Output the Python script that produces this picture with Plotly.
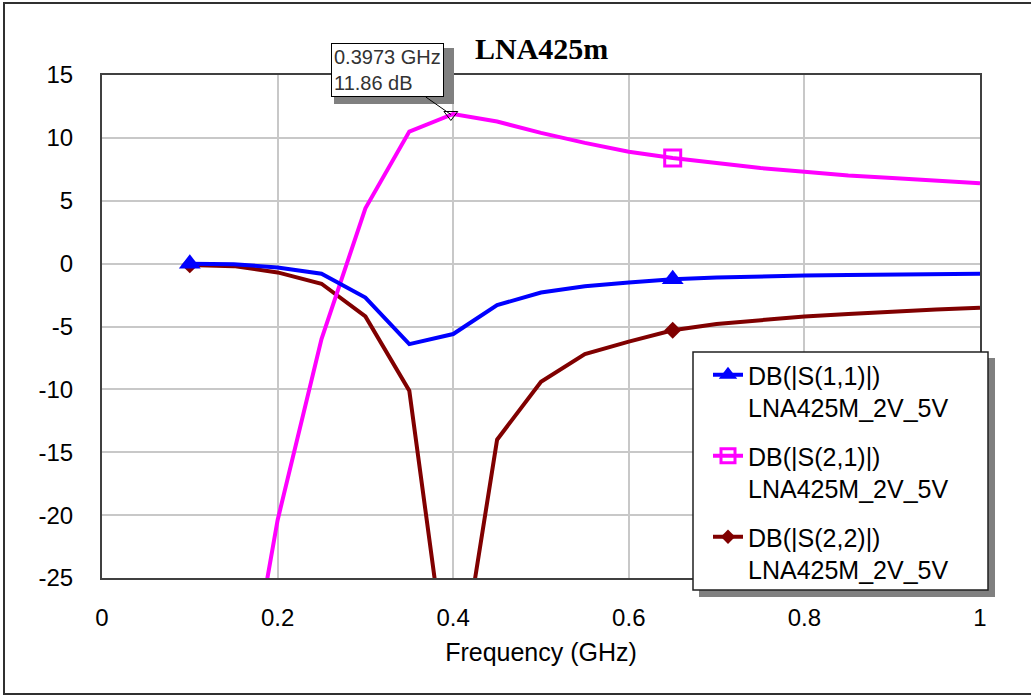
import plotly.graph_objects as go

# ---------------- data ----------------
freq = [0.10, 0.15, 0.20, 0.25, 0.30, 0.35, 0.40, 0.45, 0.50, 0.55,
        0.60, 0.65, 0.70, 0.75, 0.80, 0.85, 0.90, 0.95, 1.00]
s11 = [0.0, -0.05, -0.3, -0.8, -2.7, -6.4, -5.6, -3.3, -2.3, -1.8,
       -1.5, -1.25, -1.1, -1.0, -0.95, -0.9, -0.85, -0.82, -0.8]
s21 = [-60.0, -40.0, -20.4, -6.0, 4.4, 10.5, 11.9, 11.3, 10.4, 9.6,
       8.9, 8.4, 8.0, 7.6, 7.3, 7.0, 6.8, 6.6, 6.4]
s22 = [-0.1, -0.2, -0.7, -1.6, -4.2, -10.1, -36.0, -14.0, -9.4, -7.2,
       -6.2, -5.3, -4.8, -4.5, -4.2, -4.0, -3.8, -3.65, -3.5]
marker_freqs = [0.10, 0.65]

series_names = ["DB(|S(1,1)|)<br>LNA425M_2V_5V",
                "DB(|S(2,1)|)<br>LNA425M_2V_5V",
                "DB(|S(2,2)|)<br>LNA425M_2V_5V"]

x_ticks = [0, 0.2, 0.4, 0.6, 0.8, 1]
x_ticklabels = ["0", "0.2", "0.4", "0.6", "0.8", "1"]
y_ticks = [15, 10, 5, 0, -5, -10, -15, -20, -25]
y_ticklabels = ["15", "10", "5", "0", "-5", "-10", "-15", "-20", "-25"]

readout_freq = 0.3973
readout_db = 11.86
title_text = "LNA425m"
x_title = "Frequency (GHz)"

# ---------------- layout helpers ----------------
L, R, T, B = 102, 980, 75, 578
def px(x):
    return (x - L) / (R - L)
def py(y):
    return (B - y) / (B - T)

font_family = "Liberation Sans, Arial, sans-serif"

styles = {
    "s11": dict(color="#0000ff", symbol="triangle-up", size=19, lw=0),
    "s21": dict(color="#ff00ff", symbol="square-open", size=16, lw=3),
    "s22": dict(color="#800000", symbol="diamond", size=13, lw=0),
}
data = {"s11": s11, "s21": s21, "s22": s22}
keys = ["s11", "s21", "s22"]

fig = go.Figure()

# data traces, drawn S22 first so S11 ends on top
for k in reversed(keys):
    st = styles[k]
    ys = data[k]
    fig.add_trace(go.Scatter(
        x=freq, y=ys, mode="lines", showlegend=False,
        line=dict(color=st["color"], width=4), hoverinfo="skip",
    ))
    mx = [f for f in freq if any(abs(f - m) < 1e-9 for m in marker_freqs)]
    my = [y for f, y in zip(freq, ys) if any(abs(f - m) < 1e-9 for m in marker_freqs)]
    fig.add_trace(go.Scatter(
        x=mx, y=my, mode="markers", showlegend=False,
        marker=dict(symbol=st["symbol"], size=st["size"], color=st["color"],
                    line=dict(width=st["lw"], color=st["color"])),
    ))

# legend entries
for k, name in zip(keys, series_names):
    st = styles[k]
    fig.add_trace(go.Scatter(
        x=[None], y=[None], mode="lines+markers", name=name,
        line=dict(color=st["color"], width=4),
        marker=dict(symbol=st["symbol"], size=st["size"] - 2, color=st["color"],
                    line=dict(width=st["lw"], color=st["color"])),
        legendgroup=k,
    ))

# readout marker (open triangle)
fig.add_trace(go.Scatter(
    x=[readout_freq], y=[readout_db], mode="markers", showlegend=False,
    marker=dict(symbol="triangle-down-open", size=12, color="black",
                line=dict(width=1, color="black")),
))

fig.update_layout(
    width=1031, height=696,
    margin=dict(l=L, r=1031 - R, t=T, b=696 - B),
    paper_bgcolor="white", plot_bgcolor="white",
    font=dict(family=font_family, size=24, color="black"),
    showlegend=True,
    legend=dict(
        x=px(708), y=py(352), xanchor="left", yanchor="top",
        bgcolor="rgba(0,0,0,0)", borderwidth=0,
        font=dict(size=25, family=font_family, color="black"),
        valign="top", tracegroupgap=13,
    ),
    xaxis=dict(
        range=[0, 1], tickvals=x_ticks, ticktext=x_ticklabels,
        showgrid=True, gridcolor="#c8c8c8", gridwidth=1.5,
        zeroline=False, showline=True, linecolor="#404040", linewidth=2,
        mirror=True, ticks="", ticklabelstandoff=17,
        title=dict(text=x_title, standoff=14, font=dict(size=25)),
    ),
    yaxis=dict(
        range=[-25, 15], tickvals=y_ticks, ticktext=y_ticklabels,
        showgrid=True, gridcolor="#c8c8c8", gridwidth=1.5,
        zeroline=False, showline=True, linecolor="#404040", linewidth=2,
        mirror=True, ticks="", ticklabelstandoff=22,
    ),
    shapes=[
        # outer frame
        dict(type="rect", xref="paper", yref="paper",
             x0=px(4), x1=px(1040), y0=py(694), y1=py(3),
             line=dict(color="#303030", width=2), fillcolor="rgba(0,0,0,0)",
             layer="above"),
        # readout box shadow
        dict(type="rect", xref="paper", yref="paper",
             x0=px(334), x1=px(454), y0=py(104), y1=py(48),
             line=dict(width=0), fillcolor="#808080", layer="above"),
        # legend shadow
        dict(type="rect", xref="paper", yref="paper",
             x0=px(699), x1=px(995), y0=py(597), y1=py(358),
             line=dict(width=0), fillcolor="#808080", layer="above"),
        # legend box
        dict(type="rect", xref="paper", yref="paper",
             x0=px(693), x1=px(988), y0=py(590), y1=py(352),
             line=dict(width=1.5, color="#202020"), fillcolor="white",
             layer="above"),
    ],
    annotations=[
        dict(text="<b>" + title_text + "</b>", xref="paper", yref="paper",
             x=px(541), y=py(48), xanchor="center", yanchor="middle",
             showarrow=False,
             font=dict(family="Liberation Serif, Times New Roman, serif",
                       size=30, color="black")),
        dict(text=f"{readout_freq} GHz<br>{readout_db} dB", xref="x", yref="y",
             x=readout_freq, y=readout_db, ax=-63, ay=-44,
             showarrow=True, arrowhead=0, arrowwidth=1, arrowcolor="black",
             align="left", bgcolor="white", bordercolor="black",
             borderwidth=1, borderpad=2,
             font=dict(family=font_family, size=20, color="#333333")),
    ],
)

fig.write_html("out.html")
